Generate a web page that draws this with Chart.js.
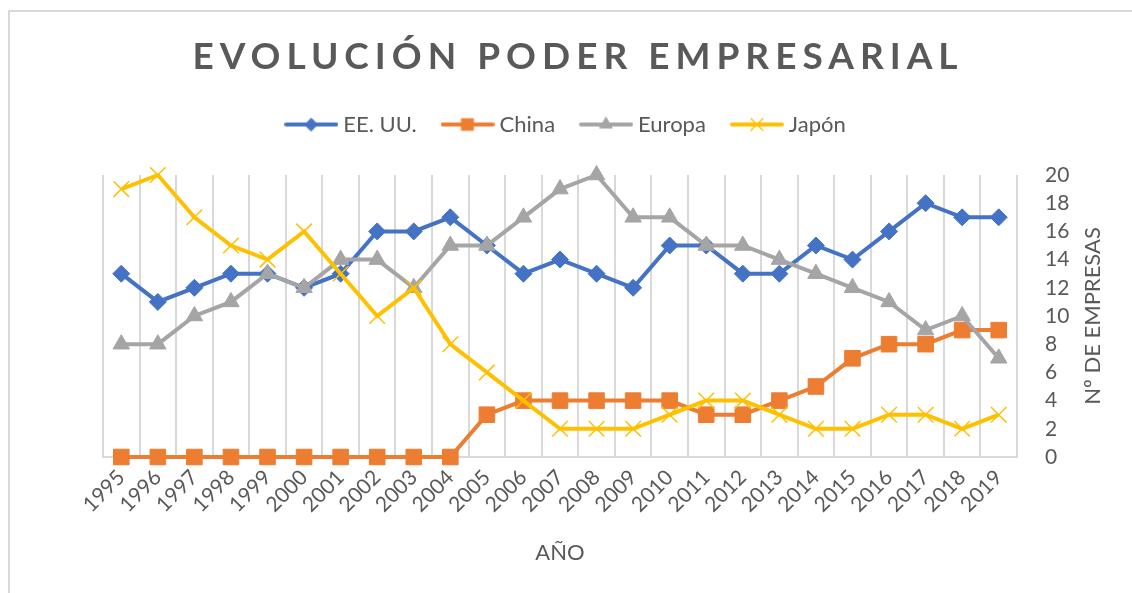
<!DOCTYPE html>
<html lang="es">
<head>
<meta charset="utf-8">
<title>Evolución poder empresarial</title>
<script src="https://cdn.jsdelivr.net/npm/chart.js@4.4.1/dist/chart.umd.min.js"></script>
<style>
  html, body { margin: 0; padding: 0; background: #fff; overflow: hidden; }
  #frame {
    position: absolute; left: 8px; top: 10px; width: 1200px; height: 700px;
    border: 2px solid #d9d9d9; box-sizing: border-box;
  }
  #title {
    position: absolute; left: 0; top: 36px; width: 1132px; padding-left: 24px;
    box-sizing: border-box; text-align: center; color: #595959;
    font: 700 37px Lato, "Open Sans", sans-serif; line-height: 1; letter-spacing: 6px;
  }
  #wrap { position: absolute; left: 0; top: 0; width: 1132px; height: 593px; }
</style>
</head>
<body>
<div id="frame"></div>
<div id="wrap"><canvas id="chart"></canvas></div>
<div id="title">EVOLUCIÓN PODER EMPRESARIAL</div>
<script>
// ── Data ──────────────────────────────────────────────────────────
const YEARS  = ['1995', '1996', '1997', '1998', '1999', '2000', '2001', '2002', '2003', '2004',
                '2005', '2006', '2007', '2008', '2009', '2010', '2011', '2012', '2013', '2014',
                '2015', '2016', '2017', '2018', '2019'];
const EEUU   = [13, 11, 12, 13, 13, 12, 13, 16, 16, 17, 15, 13, 14, 13, 12, 15, 15, 13, 13, 15, 14, 16, 18, 17, 17];
const CHINA  = [ 0,  0,  0,  0,  0,  0,  0,  0,  0,  0,  3,  4,  4,  4,  4,  4,  3,  3,  4,  5,  7,  8,  8,  9,  9];
const EUROPA = [ 8,  8, 10, 11, 13, 12, 14, 14, 12, 15, 15, 17, 19, 20, 17, 17, 15, 15, 14, 13, 12, 11,  9, 10,  7];
const JAPON  = [19, 20, 17, 15, 14, 16, 13, 10, 12,  8,  6,  4,  2,  2,  2,  3,  4,  4,  3,  2,  2,  3,  3,  2,  3];
const Y_MIN = 0, Y_MAX = 20, Y_STEP = 2;

// ── Style ─────────────────────────────────────────────────────────
const FONT = 'Lato, "Open Sans", sans-serif';
const TEXT = '#595959';
const GRID = '#d9d9d9';
const LEGEND_GAP = 29.5;   // extra room between legend row and plot
const LEGEND_SHIFT = 8;    // legend sits a touch right of the plot centre

const SERIES = [
  { label: 'EE. UU.', data: EEUU,   color: '#4472c4', point: 'rectRot',  radius: 8.5, border: 1 },
  { label: 'China',   data: CHINA,  color: '#ed7d31', point: 'rect',     radius: 11,  border: 1 },
  { label: 'Europa',  data: EUROPA, color: '#a5a5a5', point: 'triangle', radius: 9.5, border: 1 },
  { label: 'Japón',   data: JAPON,  color: '#ffc000', point: 'crossRot', radius: 11,  border: 1.5 },
];

// Excel-like legend sample: short line with the marker in the middle
function legendIcon(s) {
  const c = document.createElement('canvas');
  c.width = 54; c.height = 20;
  const ctx = c.getContext('2d');
  ctx.strokeStyle = s.color;
  ctx.fillStyle = s.color;
  ctx.lineWidth = 4;
  ctx.lineCap = 'round';
  ctx.beginPath(); ctx.moveTo(2, 10); ctx.lineTo(52, 10); ctx.stroke();
  ctx.lineWidth = s.border;
  Chart.helpers.drawPoint(ctx, { pointStyle: s.point, radius: s.radius * 0.75, borderWidth: s.border, rotation: 0 }, 27, 10);
  return c;
}
const ICONS = SERIES.map(legendIcon);

// Push the plot area down below the legend row, and nudge the row sideways
const legendSpacer = {
  id: 'legendSpacer',
  afterInit(chart) {
    const lg = chart.legend;
    if (!lg || lg.__spaced) return;
    const fit = lg.fit;
    lg.fit = function () { fit.call(this); this.height += LEGEND_GAP; };
    lg.__spaced = true;
  },
  afterLayout(chart) {
    const lg = chart.legend, a = chart.chartArea;
    const dx = (a.left + a.right) / 2 + LEGEND_SHIFT - (lg.left + lg.right) / 2;
    lg.left += dx;
    lg.right += dx;
  }
};

// Right-hand axis title, reading bottom-to-top like the original
const yTitle = {
  id: 'yTitle',
  afterDraw(chart) {
    const { ctx, chartArea, scales } = chart;
    ctx.save();
    ctx.translate(scales.y.left + 76, (chartArea.top + chartArea.bottom) / 2);
    ctx.rotate(-Math.PI / 2);
    ctx.font = '22px ' + FONT;
    ctx.fillStyle = TEXT;
    ctx.textAlign = 'center';
    ctx.textBaseline = 'middle';
    ctx.fillText('Nº DE EMPRESAS', 0, 0);
    ctx.restore();
  }
};

new Chart(document.getElementById('chart'), {
  type: 'line',
  data: {
    labels: YEARS,
    datasets: SERIES.map((s, i) => ({
      label: s.label,
      data: s.data,
      order: SERIES.length - i,          // later series drawn on top
      borderColor: s.color,
      backgroundColor: s.color,
      borderWidth: 4,
      pointStyle: s.point,
      pointRadius: s.radius,
      pointHoverRadius: s.radius,
      pointBackgroundColor: s.color,
      pointBorderColor: s.color,
      pointBorderWidth: s.border,
      tension: 0,
      clip: false,
    })),
  },
  options: {
    responsive: true,
    maintainAspectRatio: false,
    animation: false,
    layout: { padding: { left: 103, right: 0, top: 83.5, bottom: 0 } },
    plugins: {
      title: { display: false },
      tooltip: { enabled: false },
      legend: {
        position: 'top',
        labels: {
          usePointStyle: true,
          pointStyleWidth: 42,
          padding: 30,
          color: TEXT,
          font: { family: FONT, size: 22 },
          generateLabels: chart => chart.data.datasets.map((ds, i) => ({
            text: ds.label,
            pointStyle: ICONS[i],
            fillStyle: ds.borderColor,
            strokeStyle: ds.borderColor,
            lineWidth: 0,
            hidden: false,
            datasetIndex: i,
            fontColor: TEXT,
          })),
        },
      },
    },
    scales: {
      x: {
        offset: true,
        grid: { display: true, offset: true, color: GRID, lineWidth: 2, drawTicks: false },
        border: { display: true, color: GRID, width: 2 },
        ticks: {
          color: TEXT, font: { family: FONT, size: 21 },
          minRotation: 45, maxRotation: 45, autoSkip: false, padding: 8,
        },
        title: {
          display: true, text: 'AÑO', color: TEXT,
          font: { family: FONT, size: 22 }, padding: { top: 0, bottom: 27 },
        },
        afterFit(scale) { scale.height = 136; },
      },
      y: {
        position: 'right',
        min: Y_MIN, max: Y_MAX,
        ticks: { stepSize: Y_STEP, color: TEXT, font: { family: FONT, size: 21 }, padding: 28 },
        grid: { display: false, drawTicks: false },
        border: { display: false },
        afterFit(scale) { scale.width = 115; },
      },
    },
  },
  plugins: [legendSpacer, yTitle],
});
</script>
</body>
</html>
